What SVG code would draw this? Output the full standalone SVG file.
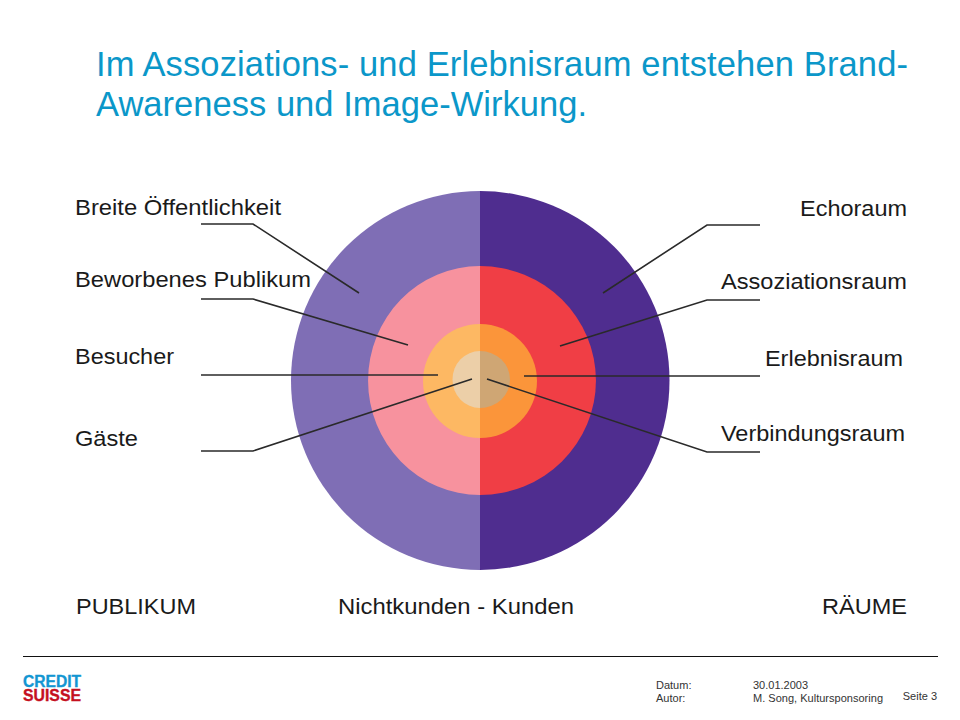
<svg xmlns="http://www.w3.org/2000/svg" width="960" height="720" viewBox="0 0 960 720">
<style>
text{font-family:"Liberation Sans",Arial,sans-serif}
.l{font-size:22.500px;fill:#1a1a1a}
.t{font-size:34.500px;fill:#0b97c9}
.s{font-size:11px;fill:#333}
.c{fill:none;stroke:#2a2a2a;stroke-width:1.600}
.logo{font-size:16px;font-weight:bold;stroke-width:.35}
</style>
<rect width="960" height="720" fill="#fff"/>
<g id="title">
<text class="t" x="96" y="76" textLength="812" lengthAdjust="spacing">Im Assoziations- und Erlebnisraum entstehen Brand-</text>
<text class="t" x="96" y="116" textLength="491" lengthAdjust="spacing">Awareness und Image-Wirkung.</text>
</g>
<g id="circles">
<path d="M480 191A189 189.500 0 0 0 480 570Z" fill="#7f6eb5"/>
<path d="M480 191A189.500 189.500 0 0 1 480 570Z" fill="#4f2d8f"/>
<path d="M480 266A112 114.500 0 0 0 480 495Z" fill="#f7929e"/>
<path d="M480 266A116 114.500 0 0 1 480 495Z" fill="#f03e45"/>
<path d="M480 324A57 57 0 0 0 480 438Z" fill="#fdb863"/>
<path d="M480 324A57 57 0 0 1 480 438Z" fill="#fb953a"/>
<path d="M480 351A27.500 28.500 0 0 0 480 408Z" fill="#eccfa8"/>
<path d="M480 351A30 28.500 0 0 1 480 408Z" fill="#cfa674"/>
</g>
<g id="connectors">
<path class="c" d="M201 224H253L359 293"/>
<path class="c" d="M201 299H253L408 345"/>
<path class="c" d="M201 375H438"/>
<path class="c" d="M201 451H253L472 379"/>
<path class="c" d="M760 225H707L603 293"/>
<path class="c" d="M760 300H707L560 346"/>
<path class="c" d="M760 376H524"/>
<path class="c" d="M760 452H707L487 379"/>
</g>
<g id="labels-left">
<text class="l" x="75" y="215" textLength="206" lengthAdjust="spacingAndGlyphs">Breite Öffentlichkeit</text>
<text class="l" x="75" y="287" textLength="236" lengthAdjust="spacingAndGlyphs">Beworbenes Publikum</text>
<text class="l" x="75" y="364" textLength="99" lengthAdjust="spacingAndGlyphs">Besucher</text>
<text class="l" x="75" y="446" textLength="63" lengthAdjust="spacingAndGlyphs">Gäste</text>
<text class="l" x="76" y="614" textLength="120" lengthAdjust="spacingAndGlyphs">PUBLIKUM</text>
</g>
<g id="labels-right">
<text class="l" x="800" y="216" textLength="107" lengthAdjust="spacingAndGlyphs">Echoraum</text>
<text class="l" x="721" y="289" textLength="186" lengthAdjust="spacingAndGlyphs">Assoziationsraum</text>
<text class="l" x="765" y="366" textLength="138" lengthAdjust="spacingAndGlyphs">Erlebnisraum</text>
<text class="l" x="721" y="441" textLength="184" lengthAdjust="spacingAndGlyphs">Verbindungsraum</text>
<text class="l" x="822" y="614" textLength="85" lengthAdjust="spacingAndGlyphs">RÄUME</text>
</g>
<text id="axis" class="l" x="338" y="614" textLength="236" lengthAdjust="spacingAndGlyphs">Nichtkunden - Kunden</text>
<g id="footer">
<path d="M23 656.500H938" stroke="#111" stroke-width="1.200"/>
<text class="logo" x="23" y="687" fill="#1296d2" stroke="#1296d2" textLength="58" lengthAdjust="spacingAndGlyphs">CREDIT</text>
<text class="logo" x="23" y="701" fill="#c5101f" stroke="#c5101f" textLength="58" lengthAdjust="spacingAndGlyphs">SUISSE</text>
<text class="s" x="656" y="689">Datum:</text>
<text class="s" x="656" y="702">Autor:</text>
<text class="s" x="753" y="689">30.01.2003</text>
<text class="s" x="753" y="702" textLength="130" lengthAdjust="spacing">M. Song, Kultursponsoring</text>
<text class="s" x="937" y="700" text-anchor="end">Seite 3</text>
</g>
</svg>
